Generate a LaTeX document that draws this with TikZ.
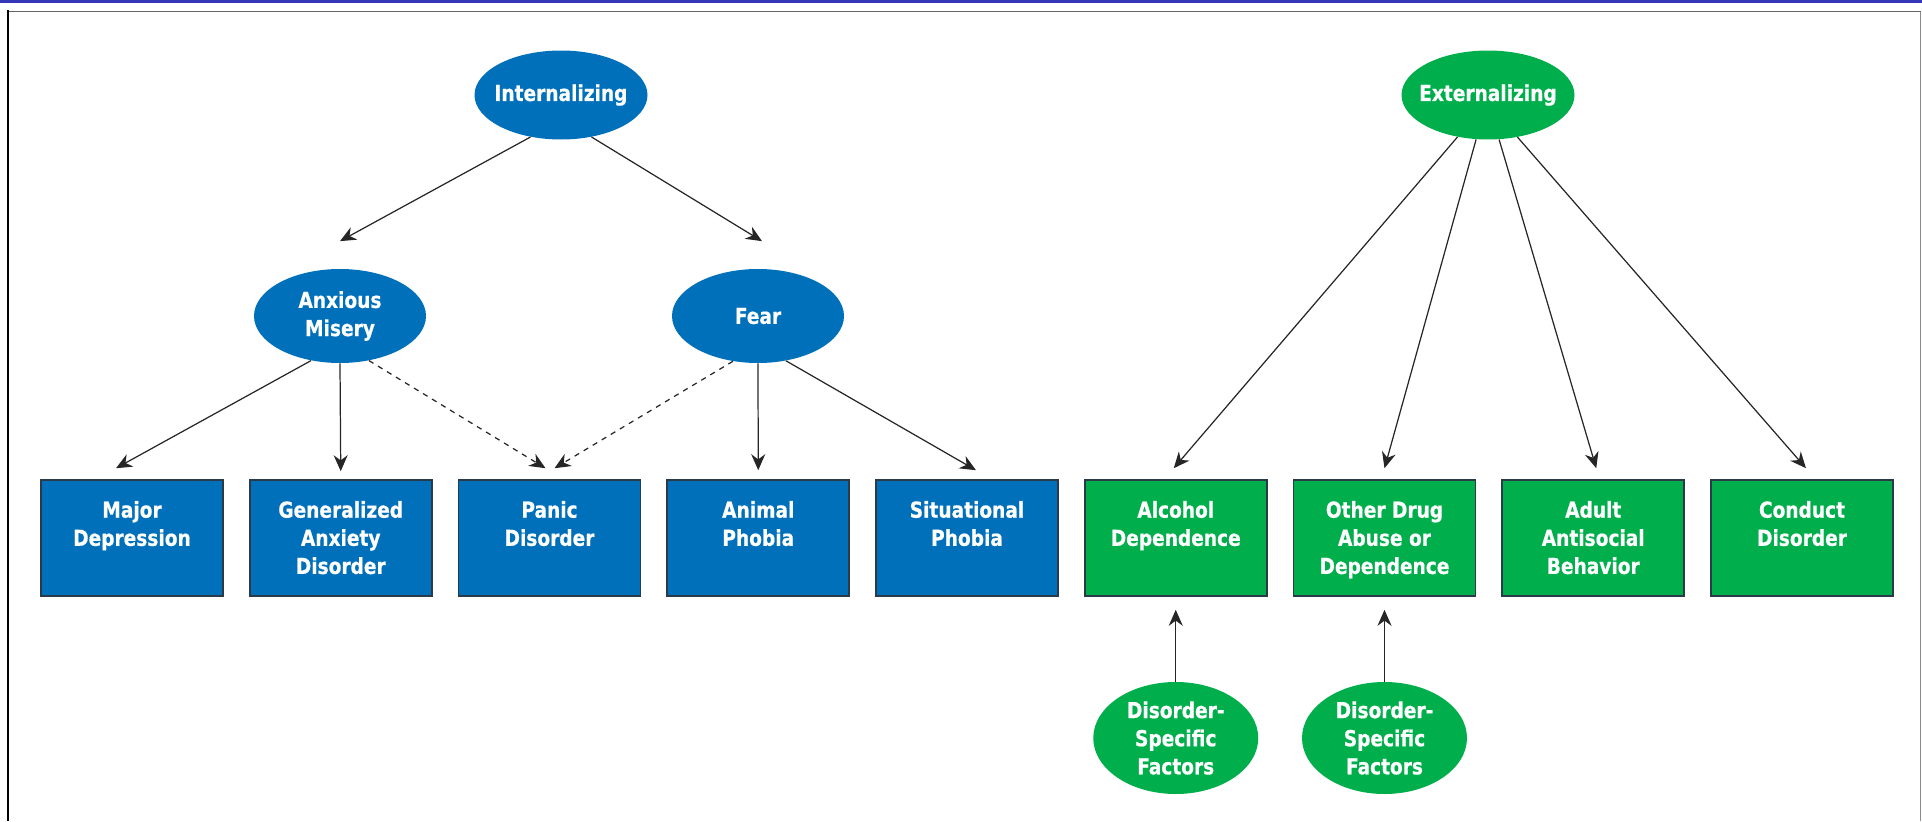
\documentclass[tikz,border=0pt]{standalone}
\usepackage{fontspec}
\setmainfont{DejaVu Sans Condensed}[FakeStretch=0.94, BoldFeatures={FakeBold=0.6}]
\usetikzlibrary{positioning,arrows.meta,shapes.geometric}
\definecolor{hiblue}{HTML}{0070BA}
\definecolor{higreen}{HTML}{00AF4C}
\definecolor{hiedge}{HTML}{2B3A48}
\definecolor{hitopline}{HTML}{3636B8}
\newcommand{\hifont}{\bfseries\fontsize{12.5}{16}\selectfont}
\newcommand{\boxlines}[1]{\parbox[c][2.32cm][t]{3.5cm}{\vspace*{0.42cm}\centering #1}}
\tikzset{
  hiellblue/.style={ellipse, fill=hiblue, text=white, font=\hifont, align=center,
                  inner xsep=-0.6cm, inner ysep=-0.1cm},
  hiellgreen/.style={hiellblue, fill=higreen},
  hiboxblue/.style={rectangle, draw=hiedge, line width=0.9pt, fill=hiblue, text=white, font=\hifont,
                  inner sep=0pt, minimum width=3.64cm, minimum height=2.32cm},
  hiboxgreen/.style={hiboxblue, fill=higreen},
  hiarrow/.style={-{Stealth[length=3.2mm, width=2.8mm]}, line width=0.7pt, draw=black!85},
  hidash/.style={hiarrow, dashed},
}
\begin{document}
\begin{tikzpicture}
    \useasboundingbox (0,0) rectangle (38.44,-16.42);
    % frame
    \draw[hitopline, line width=1.7pt] (0,-0.03) -- (38.44,-0.03);
    \draw[black!60, line width=1.1pt] (0.16,-0.23) -- (38.41,-0.23);
    \draw[black!45, line width=0.5pt] (38.41,-0.23) -- (38.41,-16.42);
    \draw[black, line width=1.7pt] (0.16,-0.2) -- (0.16,-16.42);
    % latent factors
    \node[hiellblue, minimum width=3.46cm, minimum height=1.78cm] (int) at (11.22,-1.9) {Internalizing};
    \node[hiellgreen, minimum width=3.46cm, minimum height=1.78cm] (ext) at (29.76,-1.9) {Externalizing};
    \node[hiellblue, minimum width=3.44cm, minimum height=1.88cm] (anx) at (6.80,-6.32) {Anxious\\Misery};
    \node[hiellblue, minimum width=3.44cm, minimum height=1.88cm] (fear) at (15.16,-6.32) {Fear};
    % disorders
    \node[hiboxblue] (mdep) at (2.64,-10.76) {\boxlines{Major\\Depression}};
    \node[hiboxblue] (gad) at (6.815,-10.76) {\boxlines{Generalized\\Anxiety\\Disorder}};
    \node[hiboxblue] (panic) at (10.99,-10.76) {\boxlines{Panic\\Disorder}};
    \node[hiboxblue] (animal) at (15.165,-10.76) {\boxlines{Animal\\Phobia}};
    \node[hiboxblue] (sitph) at (19.34,-10.76) {\boxlines{Situational\\Phobia}};
    \node[hiboxgreen] (alc) at (23.515,-10.76) {\boxlines{Alcohol\\Dependence}};
    \node[hiboxgreen] (odrug) at (27.69,-10.76) {\boxlines{Other Drug\\Abuse or\\Dependence}};
    \node[hiboxgreen] (asb) at (31.865,-10.76) {\boxlines{Adult\\Antisocial\\Behavior}};
    \node[hiboxgreen] (cond) at (36.04,-10.76) {\boxlines{Conduct\\Disorder}};
    % specific factors
    \node[hiellgreen, minimum width=3.3cm, minimum height=2.24cm] (dsf1) at (23.515,-14.76) {Disorder-\\Specific\\Factors};
    \node[hiellgreen, minimum width=3.3cm, minimum height=2.24cm] (dsf2) at (27.69,-14.76) {Disorder-\\Specific\\Factors};
    % paths
    \draw[hiarrow] (int.234) -- ([yshift=0.55cm]anx.north);
    \draw[hiarrow] (int.306) -- ([xshift=0.08cm,yshift=0.55cm]fear.north);
    \draw[hiarrow] (anx.237) -- ([xshift=-0.32cm,yshift=0.22cm]mdep.north);
    \draw[hiarrow] (anx.south) -- ([yshift=0.16cm]gad.north);
    \draw[hidash] (anx.303) -- ([xshift=-0.08cm,yshift=0.22cm]panic.north);
    \draw[hidash] (fear.241) -- ([xshift=0.1cm,yshift=0.22cm]panic.north);
    \draw[hiarrow] (fear.south) -- ([yshift=0.18cm]animal.north);
    \draw[hiarrow] (fear.302) -- ([xshift=0.18cm,yshift=0.18cm]sitph.north);
    \draw[hiarrow] (ext.234) -- ([xshift=-0.04cm,yshift=0.22cm]alc.north);
    \draw[hiarrow] (ext.255) -- ([yshift=0.22cm]odrug.north);
    \draw[hiarrow] (ext.284) -- ([xshift=0.06cm,yshift=0.22cm]asb.north);
    \draw[hiarrow] (ext.305) -- ([xshift=0.08cm,yshift=0.22cm]cond.north);
    \draw[hiarrow] (dsf1.north) -- ([yshift=-0.26cm]alc.south);
    \draw[hiarrow] (dsf2.north) -- ([yshift=-0.26cm]odrug.south);
\end{tikzpicture}
\end{document}
